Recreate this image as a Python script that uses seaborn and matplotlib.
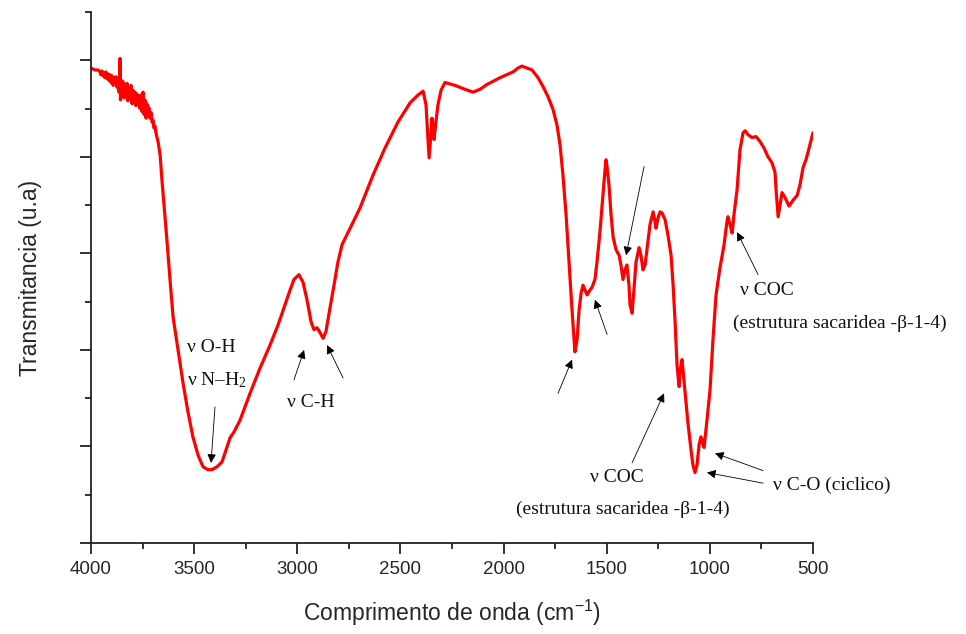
import matplotlib
matplotlib.use("Agg")
import matplotlib.pyplot as plt
import seaborn as sns
import pandas as pd
from matplotlib.ticker import MultipleLocator, NullFormatter

# ---- data ----
wavenumber = [4000, 3981, 3966,
              3956, 3952, 3947, 3942, 3937, 3932, 3927, 3922, 3918, 3913, 3908, 3903, 3898, 3893,
              3888, 3884, 3879, 3874, 3869, 3864, 3859, 3857, 3855, 3850, 3845, 3840, 3835, 3830,
              3825, 3821, 3816, 3811, 3806, 3801, 3796, 3792, 3787, 3782, 3777, 3772, 3767, 3762,
              3758, 3753, 3748, 3743, 3738, 3733, 3729, 3724, 3719, 3714, 3709, 3704, 3699, 3695,
              3690, 3685, 3680, 3675, 3665,
              3656, 3646, 3632, 3617, 3602, 3578, 3554,
              3530, 3506, 3481, 3457, 3433, 3413, 3389, 3365, 3346, 3326, 3307, 3278, 3229, 3181,
              3132, 3093, 3059, 3035, 3016, 2992, 2972, 2953, 2933, 2919, 2904, 2890, 2875, 2861,
              2841, 2822, 2803, 2783, 2744, 2696, 2633, 2575, 2512, 2453, 2415, 2390, 2376, 2366,
              2361, 2352, 2347, 2342, 2337, 2327, 2318, 2303, 2284, 2235, 2187, 2148, 2114, 2080,
              2017, 1954, 1930, 1911, 1886, 1862, 1833, 1809, 1784, 1760, 1741, 1726, 1712, 1697,
              1688, 1678, 1668, 1658, 1654, 1644, 1634, 1624, 1615, 1605, 1595, 1581, 1571, 1557,
              1547, 1532, 1518, 1508, 1503, 1498, 1489, 1479, 1469, 1455, 1440, 1431, 1421, 1411,
              1402, 1392, 1387, 1377, 1368, 1358, 1343, 1334, 1324, 1314, 1305, 1290, 1275, 1266,
              1261, 1251, 1241, 1232, 1217, 1203, 1188, 1178, 1169, 1159, 1149, 1144, 1135, 1130,
              1120, 1106, 1091, 1082, 1072, 1062, 1052, 1043, 1033, 1028, 1014, 999, 985, 970,
              951, 931, 917, 912, 902, 892, 883, 868, 854, 839, 829, 815, 796, 776, 757, 737, 718,
              699, 684, 679, 669, 660, 650, 636, 616, 597, 577, 563, 548, 534, 519, 500]
transmittance = [49.2, 49.0, 49.0,
                 48.8, 48.5, 48.9, 48.4, 48.7, 48.2, 48.8, 48.1, 48.6, 47.9, 48.5, 47.7, 48.4, 47.4,
                 48.2, 47.6, 48.3, 47.2, 48.0, 46.7, 50.2, 45.9, 48.0, 46.3, 47.8, 46.1, 47.5, 46.4,
                 47.6, 45.8, 47.2, 46.2, 47.4, 45.5, 46.9, 45.9, 46.7, 45.3, 46.5, 45.6, 46.3, 45.0,
                 46.4, 44.7, 46.7, 44.4, 45.9, 44.0, 45.5, 44.7, 45.1, 44.0, 44.6, 43.6, 43.8, 43.0,
                 43.2, 42.5, 42.0, 41.6, 40.2,
                 37.6, 35.0, 31.4, 27.3, 23.4, 20.0, 16.6,
                 13.6, 11.0, 9.1, 7.9, 7.6, 7.6, 7.9, 8.4, 9.6, 10.9, 11.5, 12.7, 15.5, 18.1,
                 20.5, 22.6, 24.7, 26.2, 27.3, 27.8, 27.0, 25.2, 22.9, 22.1, 22.3, 21.8, 21.2, 21.9,
                 24.4, 26.7, 29.1, 30.9, 32.6, 34.7, 38.1, 40.9, 43.6, 45.6, 46.4, 46.8, 45.4, 41.8,
                 39.9, 42.3, 44.0, 43.3, 41.8, 43.8, 45.4, 46.9, 47.7, 47.4, 47.0, 46.7, 47.0, 47.5,
                 48.2, 48.8, 49.2, 49.4, 49.2, 49.0, 48.2, 47.3, 46.2, 44.9, 43.3, 41.2, 38.1, 34.0,
                 30.9, 27.3, 24.1, 21.0, 19.8, 21.0, 24.1, 25.9, 26.7, 26.2, 25.7, 26.2, 26.5, 27.3,
                 29.1, 32.4, 36.1, 38.7, 39.7, 38.9, 37.1, 34.0, 31.7, 30.4, 29.8, 28.8, 27.3, 28.3,
                 28.8, 26.7, 24.7, 23.8, 26.2, 29.1, 30.6, 29.8, 28.3, 28.8, 30.4, 33.0, 34.3, 33.3,
                 32.6, 33.7, 34.3, 34.2, 33.5, 31.9, 29.8, 26.7, 23.1, 18.4, 16.2, 17.9, 19.0, 17.9,
                 15.6, 12.4, 9.6, 8.1, 7.3, 8.1, 10.2, 11.0, 10.2, 9.9, 12.7, 15.9, 21.0, 25.7,
                 28.5, 30.9, 33.3, 33.8, 33.0, 32.1, 34.0, 36.6, 40.7, 42.5, 42.7, 42.3, 42.0, 42.1,
                 41.6, 40.9, 40.0, 39.4, 38.4, 36.6, 33.8, 35.0, 36.3, 35.8, 34.9, 35.5, 36.0, 37.1,
                 38.9, 39.7, 40.9, 42.5]

x_ticks = [4000, 3500, 3000, 2500, 2000, 1500, 1000, 500]
x_label = "Comprimento de onda (cm$^{-1}$)"
y_label = "Transmitancia (u.a)"

df = pd.DataFrame({"wn": wavenumber, "T": transmittance})

sns.set_style("ticks")
plt.rcParams["font.family"] = ["Liberation Sans", "DejaVu Sans"]
plt.rcParams["mathtext.fontset"] = "custom"
plt.rcParams["mathtext.rm"] = "Liberation Sans"
plt.rcParams["mathtext.it"] = "Liberation Sans"

fig = plt.figure(figsize=(9.66, 6.34), dpi=100)
ax = fig.add_axes([0.0942, 0.1435, 0.7474, 0.8375])

sns.lineplot(data=df, x="wn", y="T", ax=ax, color="#ff0000", lw=2.3, sort=False,
             estimator=None)

ax.set_xlim(4000, 500)
ax.set_ylim(0, 55)
ax.set_xticks(x_ticks)
ax.xaxis.set_minor_locator(MultipleLocator(250))
ax.yaxis.set_major_locator(MultipleLocator(10))
ax.yaxis.set_minor_locator(MultipleLocator(5))
ax.yaxis.set_major_formatter(NullFormatter())
for s in ["top", "right"]:
    ax.spines[s].set_visible(False)
for s in ["left", "bottom"]:
    ax.spines[s].set_linewidth(1.3)
    ax.spines[s].set_color("#222222")
ax.tick_params(which="major", direction="out", length=8, width=1.3, color="#222222",
               labelsize=13.5, pad=5)
ax.tick_params(which="minor", direction="out", length=4.5, width=1.3, color="#222222")
ax.set_xlabel(x_label, fontsize=16.5, labelpad=14)
ax.set_ylabel(y_label, fontsize=16.5)
ax.yaxis.set_label_coords(-0.068, 0.5)

serif = ["Liberation Serif", "DejaVu Serif"]
tkw = dict(fontsize=14, family=serif, color="#111111")
ax.text(3535, 20.3, "ν O-H", ha="left", va="center", **tkw)
ax.text(3535, 16.9, "ν N–$\\mathregular{H_2}$", ha="left", va="center", **tkw)
ax.text(2933, 14.6, "ν C-H", ha="center", va="center", **tkw)
ax.text(1450, 6.8, "ν COC", ha="center", va="center", **tkw)
ax.text(1421, 3.5, "(estrutura sacaridea -β-1-4)", ha="center", va="center", **tkw)
ax.text(855, 26.2, "ν COC", ha="left", va="center", **tkw)
ax.text(888, 22.8, "(estrutura sacaridea -β-1-4)", ha="left", va="center", clip_on=False, **tkw)
ax.text(694, 6.0, "ν C-O (ciclico)", ha="left", va="center", clip_on=False, **tkw)

arrows = [
    ((3399, 14.1), (3418, 8.3)),
    ((3016, 16.9), (2967, 20.0)),
    ((2778, 17.1), (2856, 20.5)),
    ((1736, 15.5), (1668, 19.0)),
    ((1498, 21.6), (1557, 25.2)),
    ((1319, 39.0), (1406, 29.8)),
    ((1377, 8.3), (1222, 15.5)),
    ((766, 27.8), (868, 32.2)),
    ((742, 7.5), (975, 9.3)),
    ((742, 6.2), (1014, 7.3)),
]
for (x0, y0), (x1, y1) in arrows:
    ax.annotate("", xy=(x1, y1), xytext=(x0, y0),
                arrowprops=dict(arrowstyle="-|>", color="black", lw=0.6,
                                mutation_scale=13, shrinkA=0, shrinkB=0))

fig.savefig("out.png", dpi=100)
